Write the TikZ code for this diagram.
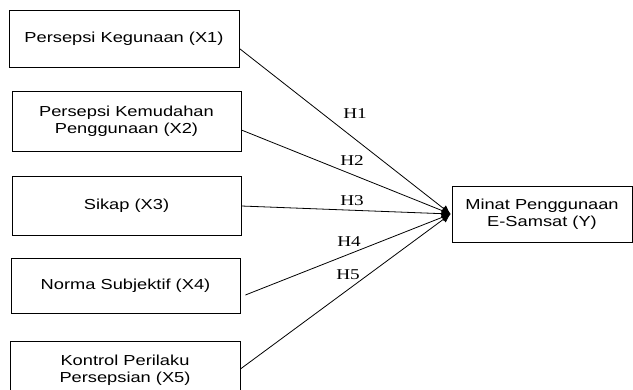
\documentclass[tikz,border=0pt]{standalone}
\usepackage{fontspec}
\setmainfont[FakeStretch=1.28]{Liberation Serif}
\newfontfamily\boxfont[FakeStretch=1.26]{Liberation Sans}
\usetikzlibrary{arrows.meta}
\begin{document}
\begin{tikzpicture}[x=1pt,y=-1pt,
  var/.style={draw, line width=0.8pt, align=center, inner sep=0pt,
    font=\boxfont\fontsize{14.5}{16.5}\selectfont},
  hyp/.style={font=\fontsize{15}{17}\selectfont, inner sep=0pt},
  link/.style={line width=0.8pt, -{Latex[length=9pt,width=8pt]}}]
\useasboundingbox (0,0) rectangle (633,389);
\clip (0,0) rectangle (633,389);
\node[var, minimum width=230pt, minimum height=57pt] (b1) at (124,38.5) {Persepsi Kegunaan (X1)};
\node[var, minimum width=229pt, minimum height=60pt] (b2) at (126.5,121) {Persepsi Kemudahan\\Penggunaan (X2)};
\node[var, minimum width=229pt, minimum height=59pt] (b3) at (126.5,205.5) {Sikap (X3)};
\node[var, minimum width=229pt, minimum height=55pt] (b4) at (125.5,285.5) {Norma Subjektif (X4)};
\node[var, minimum width=230pt, minimum height=58pt] (b5) at (125,370) {Kontrol Perilaku\\Persepsian (X5)};
\node[var, minimum width=180pt, minimum height=56pt] (by) at (542,214) {Minat Penggunaan\\E-Samsat (Y)};
\coordinate (tip) at ([xshift=-1pt]by.west);
\draw[link] ([yshift=-10pt]b1.east) -- (tip);
\draw[link] ([yshift=-9pt]b2.east) -- (tip);
\draw[link] ([yshift=-0.5pt]b3.east) -- (tip);
\draw[link] ([xshift=5pt,yshift=-9.5pt]b4.east) -- (tip);
\draw[link] ([yshift=1pt]b5.east) -- (tip);
\node[hyp] (h1) at (355,114) {H1};
\node[hyp] (h2) at (352,161) {H2};
\node[hyp] (h3) at (352,201) {H3};
\node[hyp] (h4) at (349,242) {H4};
\node[hyp] (h5) at (348,275) {H5};
\end{tikzpicture}
\end{document}
